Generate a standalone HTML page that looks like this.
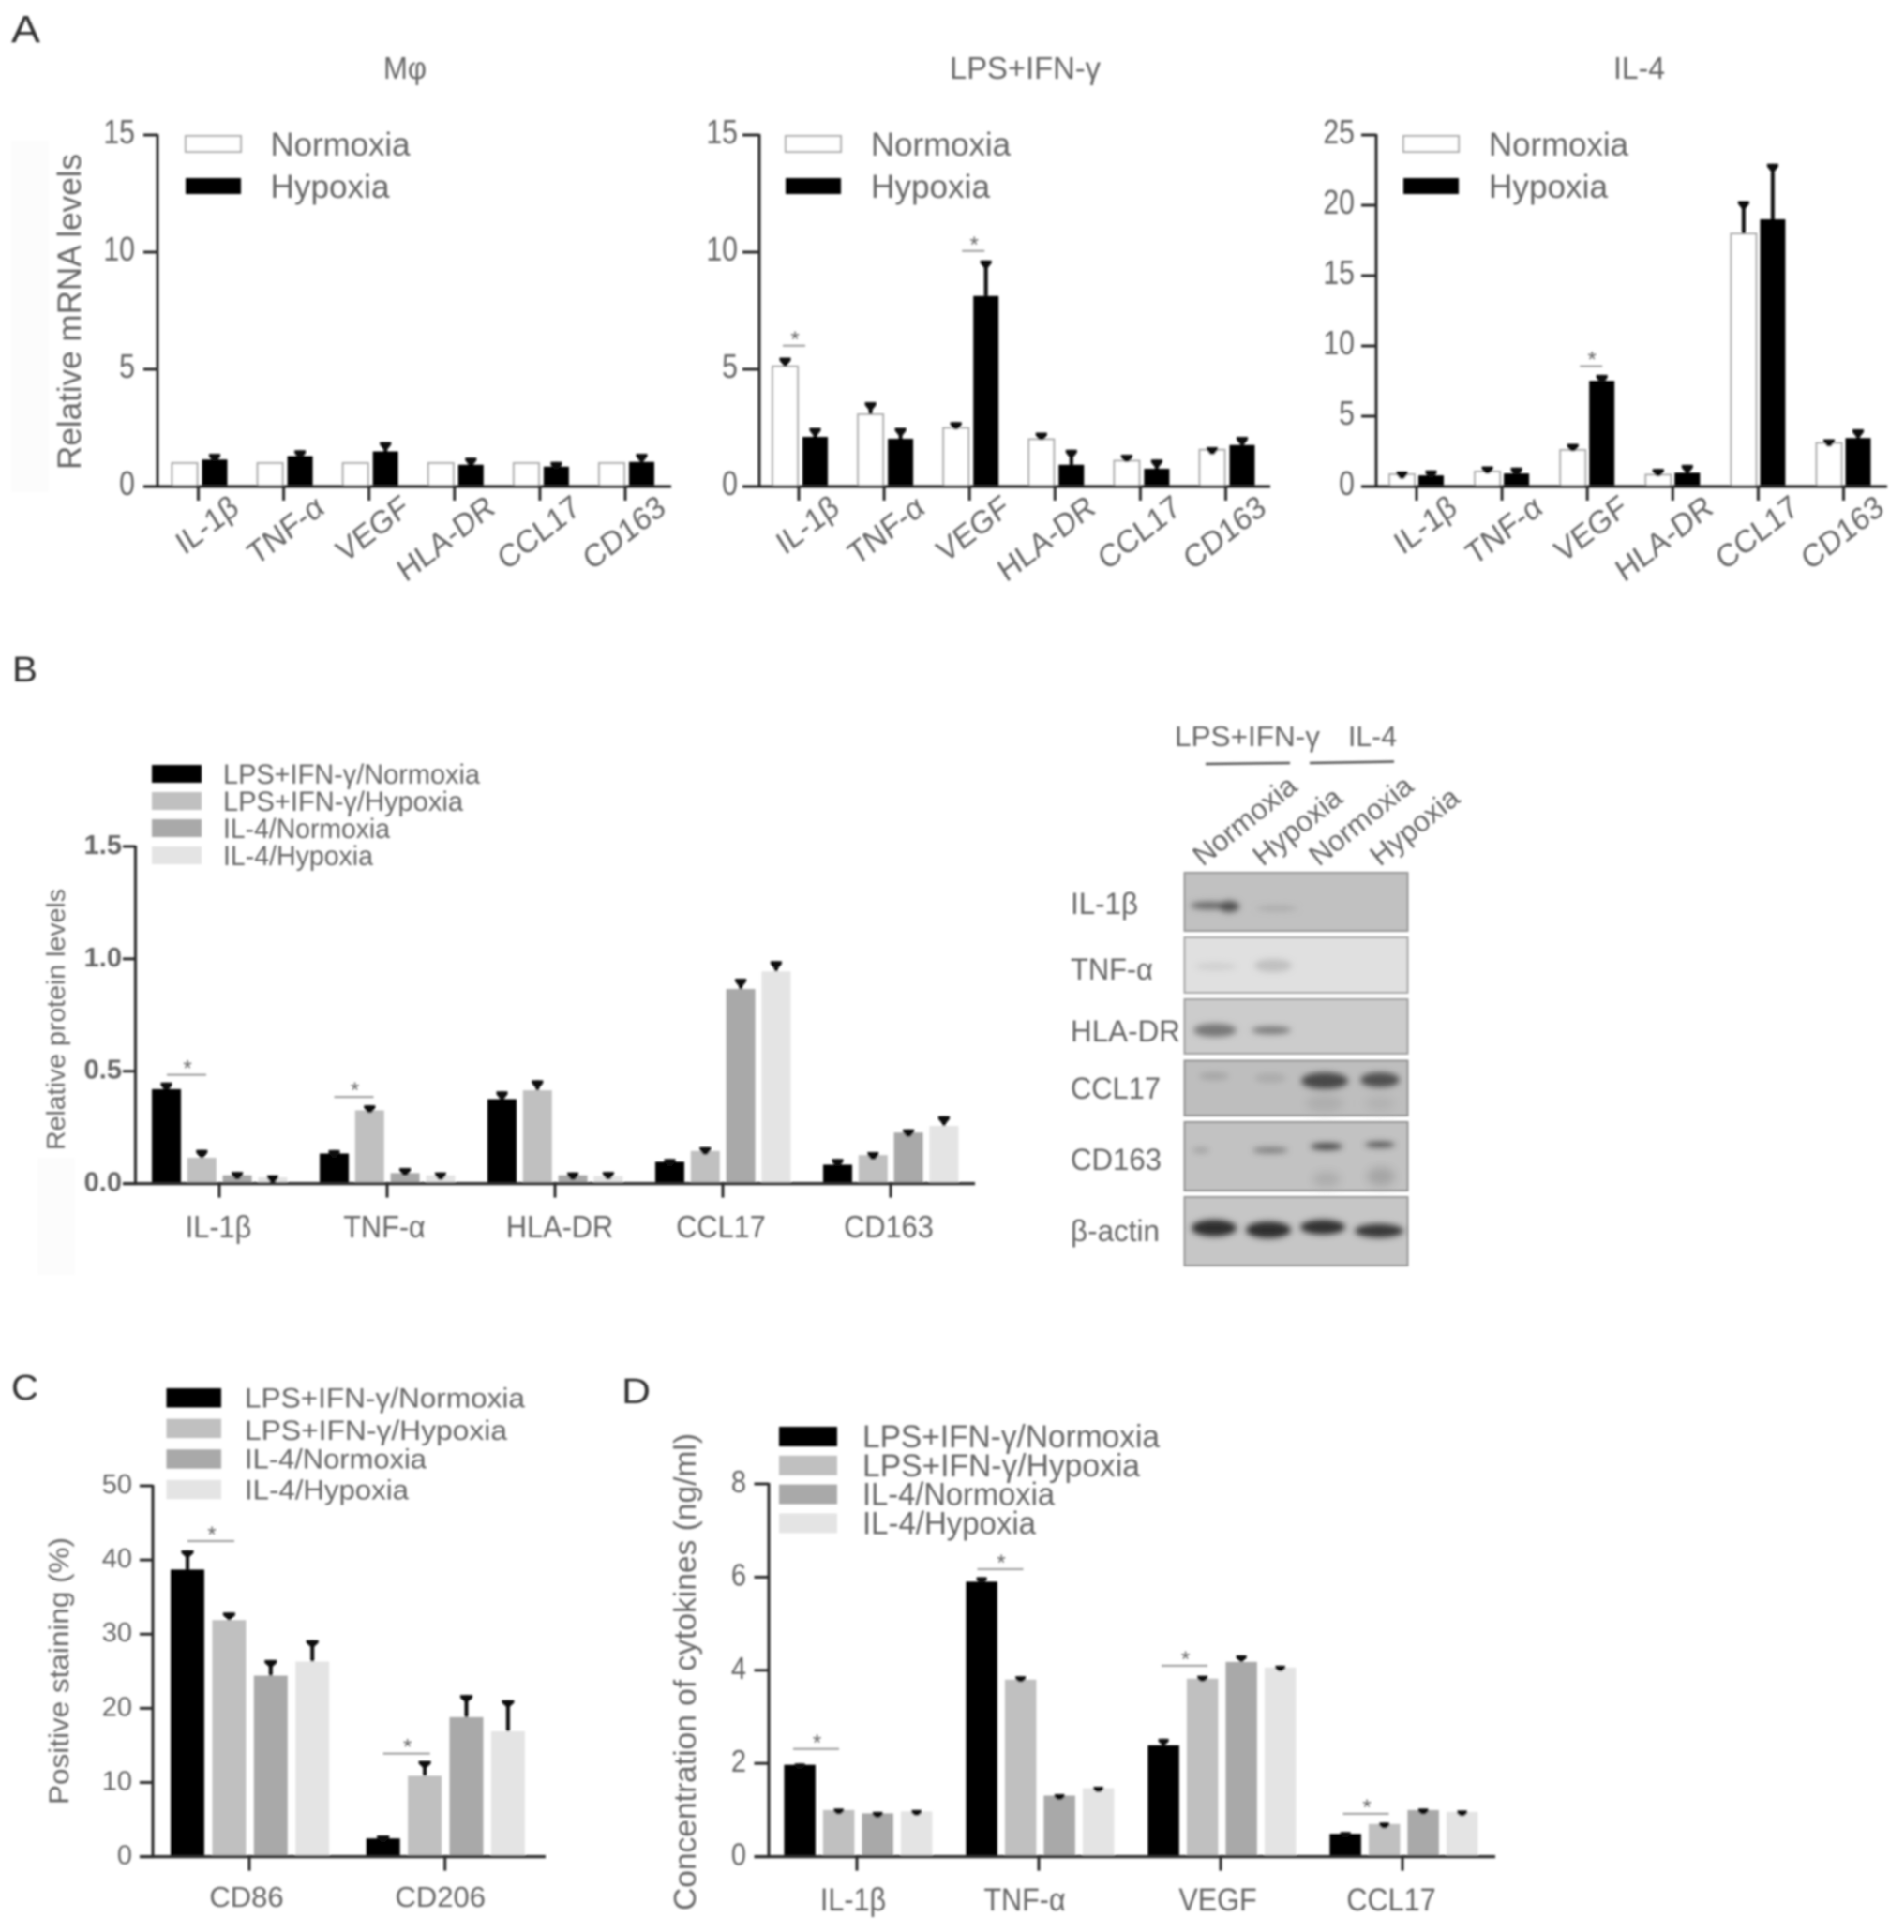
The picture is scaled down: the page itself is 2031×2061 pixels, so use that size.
<!DOCTYPE html>
<html lang="en">
<head>
<meta charset="utf-8">
<title>Macrophage hypoxia figure</title>
<style>
html,body{margin:0;padding:0;background:#fff;}
svg{display:block;}
text{font-family:"Liberation Sans","Noto Sans CJK SC",sans-serif;fill:#666;}
</style>
</head>
<body>
<svg id="figure" xmlns="http://www.w3.org/2000/svg" width="2031" height="2061" viewBox="0 0 2031 2061">
  <defs>
    <filter id="soft" x="-2%" y="-2%" width="104%" height="104%"><feGaussianBlur stdDeviation="1"/></filter>
    <filter id="band" x="-30%" y="-100%" width="160%" height="300%"><feGaussianBlur stdDeviation="3.2"/></filter>
    <filter id="bandWide" x="-30%" y="-100%" width="160%" height="300%"><feGaussianBlur stdDeviation="5"/></filter>
  </defs>
  <rect width="2031" height="2061" fill="#fff"/>
  <g id="root" filter="url(#soft)">
    <rect x="12" y="150" width="40" height="375" fill="#fcfcfc"/>
    <rect x="40" y="1235" width="40" height="125" fill="#fcfcfc"/>
    <text x="12" y="45" font-size="41" textLength="31" lengthAdjust="spacingAndGlyphs" style="fill:#333">A</text>
    <text x="13" y="727" font-size="38" textLength="27" lengthAdjust="spacingAndGlyphs" style="fill:#333">B</text>
    <text x="12" y="1493" font-size="38" textLength="29" lengthAdjust="spacingAndGlyphs" style="fill:#333">C</text>
    <text x="663" y="1497" font-size="38" textLength="31" lengthAdjust="spacingAndGlyphs" style="fill:#333">D</text>

    <text x="409" y="84" font-size="33" textLength="46" lengthAdjust="spacingAndGlyphs">Mφ</text>
    <text x="1013" y="84" font-size="33" textLength="161" lengthAdjust="spacingAndGlyphs">LPS+IFN-γ</text>
    <text x="1721" y="84" font-size="33" textLength="55" lengthAdjust="spacingAndGlyphs">IL-4</text>

    <g id="charts"></g>

    <g id="blot">
      <text x="1253" y="796" font-size="31" textLength="155" lengthAdjust="spacingAndGlyphs">LPS+IFN-γ</text>
      <text x="1438" y="796" font-size="31" textLength="52" lengthAdjust="spacingAndGlyphs">IL-4</text>
      <line x1="1286" y1="815" x2="1376" y2="814" stroke="#555" stroke-width="2.5"/>
      <line x1="1397" y1="814" x2="1487" y2="812.5" stroke="#555" stroke-width="2.5"/>
      <text transform="translate(1283,925) rotate(-39)" font-size="31" textLength="132" lengthAdjust="spacingAndGlyphs">Normoxia</text>
      <text transform="translate(1347,925) rotate(-39)" font-size="31" textLength="112" lengthAdjust="spacingAndGlyphs">Hypoxia</text>
      <text transform="translate(1407,925) rotate(-39)" font-size="31" textLength="132" lengthAdjust="spacingAndGlyphs">Normoxia</text>
      <text transform="translate(1472,925) rotate(-39)" font-size="31" textLength="112" lengthAdjust="spacingAndGlyphs">Hypoxia</text>

      <text x="1142" y="975" font-size="32" textLength="72" lengthAdjust="spacingAndGlyphs">IL-1β</text>
      <text x="1142" y="1045" font-size="32" textLength="88" lengthAdjust="spacingAndGlyphs">TNF-α</text>
      <text x="1142" y="1111" font-size="32" textLength="117" lengthAdjust="spacingAndGlyphs">HLA-DR</text>
      <text x="1142" y="1172" font-size="32" textLength="96" lengthAdjust="spacingAndGlyphs">CCL17</text>
      <text x="1142" y="1248" font-size="32" textLength="97" lengthAdjust="spacingAndGlyphs">CD163</text>
      <text x="1142" y="1324" font-size="32" textLength="95" lengthAdjust="spacingAndGlyphs">β-actin</text>

      <rect x="1263.5" y="931" width="238" height="62" fill="#c1c1c1" stroke="#959595" stroke-width="2"/>
      <rect x="1263.5" y="1000" width="238" height="59" fill="#e0e0e0" stroke="#a4a4a4" stroke-width="2"/>
      <rect x="1263.5" y="1066" width="238" height="58" fill="#cccccc" stroke="#9c9c9c" stroke-width="2"/>
      <rect x="1263.5" y="1131.5" width="238" height="58.5" fill="#bebebe" stroke="#909090" stroke-width="2"/>
      <rect x="1263.5" y="1197" width="238" height="73" fill="#c2c2c2" stroke="#909090" stroke-width="2"/>
      <rect x="1263.5" y="1277" width="238" height="73" fill="#c6c6c6" stroke="#959595" stroke-width="2"/>

      <g filter="url(#band)">
        <ellipse cx="1290" cy="966" rx="20" ry="4" fill="#666"/>
        <ellipse cx="1311" cy="967" rx="11" ry="6" fill="#505050"/>
        <ellipse cx="1362" cy="969" rx="22" ry="3" fill="#aaa"/>
        <ellipse cx="1297" cy="1031" rx="22" ry="4" fill="#cfcfcf"/>
        <ellipse cx="1358" cy="1030" rx="20" ry="7" fill="#c0c0c0"/>
        <ellipse cx="1296" cy="1099" rx="23" ry="7" fill="#777"/>
        <ellipse cx="1356" cy="1099" rx="21" ry="4" fill="#777"/>
        <ellipse cx="1295" cy="1148" rx="16" ry="4" fill="#a4a4a4"/>
        <ellipse cx="1355" cy="1150" rx="17" ry="5" fill="#ababab"/>
        <ellipse cx="1413" cy="1153" rx="25" ry="9" fill="#484848"/>
        <ellipse cx="1472" cy="1152" rx="21" ry="8" fill="#505050"/>
        <ellipse cx="1281" cy="1227" rx="9" ry="2.5" fill="#9a9a9a"/>
        <ellipse cx="1355" cy="1227" rx="19" ry="3" fill="#777"/>
        <ellipse cx="1415" cy="1223" rx="17" ry="3.5" fill="#3c3c3c"/>
        <ellipse cx="1472" cy="1221" rx="16" ry="3" fill="#484848"/>
        <ellipse cx="1295" cy="1310" rx="24" ry="9" fill="#2e2e2e"/>
        <ellipse cx="1353" cy="1312" rx="24" ry="9" fill="#2e2e2e"/>
        <ellipse cx="1411" cy="1309" rx="24" ry="8" fill="#333"/>
        <ellipse cx="1471" cy="1313" rx="26" ry="7.5" fill="#383838"/>
      </g>
      <g filter="url(#bandWide)">
        <ellipse cx="1413" cy="1177" rx="20" ry="9" fill="#adadad"/>
        <ellipse cx="1472" cy="1177" rx="16" ry="8" fill="#b2b2b2"/>
        <ellipse cx="1415" cy="1258" rx="15" ry="8" fill="#acacac"/>
        <ellipse cx="1473" cy="1255" rx="15" ry="10" fill="#a4a4a4"/>
      </g>
    </g>
  </g>
</svg>
<script>
// Panel A data
const geneCategories = ['IL-1β', 'TNF-α', 'VEGF', 'HLA-DR', 'CCL17', 'CD163'];
const oxygenSeriesNames = ['Normoxia', 'Hypoxia'];
const mrnaTicksLow = [0, 5, 10, 15];
const mrnaTicksHigh = [0, 5, 10, 15, 20, 25];

const macNormoxia = [1.0, 1.0, 1.0, 1.0, 1.0, 1.0];
const macNormoxiaErr = [1.0, 1.0, 1.0, 1.0, 1.0, 1.0];
const macHypoxia = [1.15, 1.3, 1.5, 0.93, 0.85, 1.05];
const macHypoxiaErr = [1.4, 1.55, 1.9, 1.23, 1.05, 1.4];

const lpsNormoxia = [5.13, 3.08, 2.5, 2.02, 1.1, 1.57];
const lpsNormoxiaErr = [5.5, 3.6, 2.75, 2.3, 1.36, 1.68];
const lpsHypoxia = [2.12, 2.04, 8.13, 0.93, 0.76, 1.77];
const lpsHypoxiaErr = [2.5, 2.5, 9.65, 1.57, 1.15, 2.12];
const lpsSigCategories = [0, 2];
const lpsSigLevels = [6.01, 10.05];

const il4Normoxia = [0.87, 1.07, 2.6, 0.84, 17.98, 3.1];
const il4NormoxiaErr = [1.07, 1.43, 3.03, 1.26, 20.3, 3.37];
const il4Hypoxia = [0.79, 0.93, 7.52, 0.98, 19.0, 3.45];
const il4HypoxiaErr = [1.15, 1.35, 7.94, 1.54, 22.95, 4.07];
const il4SigCategories = [2];
const il4SigLevels = [8.56];

// Four-group legend names
const treatmentNames = ['LPS+IFN-γ/Normoxia', 'LPS+IFN-γ/Hypoxia', 'IL-4/Normoxia', 'IL-4/Hypoxia'];

// Panel B data
const proteinCategories = ['IL-1β', 'TNF-α', 'HLA-DR', 'CCL17', 'CD163'];
const proteinTicks = [0, 0.5, 1, 1.5];
const proteinLpsNorm = [0.42, 0.134, 0.376, 0.097, 0.084];
const proteinLpsNormErr = [0.45, 0.149, 0.41, 0.11, 0.11];
const proteinLpsHyp = [0.115, 0.326, 0.415, 0.145, 0.127];
const proteinLpsHypErr = [0.15, 0.348, 0.46, 0.162, 0.14];
const proteinIl4Norm = [0.037, 0.047, 0.037, 0.866, 0.227];
const proteinIl4NormErr = [0.052, 0.069, 0.05, 0.912, 0.242];
const proteinIl4Hyp = [0.028, 0.037, 0.034, 0.944, 0.257];
const proteinIl4HypErr = [0.037, 0.05, 0.052, 0.99, 0.3];
const proteinSigCategories = [0, 1];
const proteinSigLevels = [0.484, 0.386];

// Panel C data
const stainCategories = ['CD86', 'CD206'];
const stainTicks = [0, 10, 20, 30, 40, 50];
const stainLpsNorm = [38.7, 2.45];
const stainLpsNormErr = [41.3, 2.85];
const stainLpsHyp = [31.9, 10.9];
const stainLpsHypErr = [32.9, 12.9];
const stainIl4Norm = [24.4, 18.8];
const stainIl4NormErr = [26.5, 21.8];
const stainIl4Hyp = [26.3, 16.9];
const stainIl4HypErr = [29.2, 21.1];
const stainSigCategories = [0, 1];
const stainSigLevels = [42.55, 13.9];

// Panel D data
const cytokineCategories = ['IL-1β', 'TNF-α', 'VEGF', 'CCL17'];
const cytokineTicks = [0, 2, 4, 6, 8];
const cytoLpsNorm = [1.97, 5.9, 2.39, 0.49];
const cytoLpsNormErr = [2.0, 6.0, 2.53, 0.53];
const cytoLpsHyp = [1.0, 3.8, 3.82, 0.7];
const cytoLpsHypErr = [1.03, 3.87, 3.88, 0.73];
const cytoIl4Norm = [0.93, 1.31, 4.18, 1.0];
const cytoIl4NormErr = [0.96, 1.34, 4.32, 1.03];
const cytoIl4Hyp = [0.97, 1.47, 4.06, 0.96];
const cytoIl4HypErr = [1.0, 1.5, 4.1, 0.99];
const cytoSigCategories = [0, 1, 2, 3];
const cytoSigLevels = [2.31, 6.17, 4.1, 0.92];

const SVGNS = 'http://www.w3.org/2000/svg';
function makeEl(tag, attrs, parent, content) {
  const el = document.createElementNS(SVGNS, tag);
  Object.keys(attrs).forEach(function (k) { el.setAttribute(k, attrs[k]); });
  if (content !== undefined) el.textContent = content;
  parent.appendChild(el);
  return el;
}

function drawChart(cfg) {
  const holder = document.getElementById('charts');
  const g = makeEl('g', {}, holder);
  
  

  const yMax = cfg.ticks[cfg.ticks.length - 1];
  const yScale = function (v) { return cfg.zero - (v / yMax) * (cfg.zero - cfg.top); };
  const xScale = function (i) { return cfg.tick0 + i * cfg.tickStep; };
  const yLabelSx = cfg.yLabelSx || 1;
  const catSx = cfg.catSx || 1;

  // bars and error bars
  cfg.series.forEach(function (s, si) {
    const seriesGroup = makeEl('g', {}, g);
    
    
    s.values.forEach(function (v, i) {
      const left = xScale(i) + cfg.barStart + si * cfg.barStep;
      const barTop = yScale(v);
      const bar = makeEl('rect', {
        x: left, y: barTop, width: cfg.barWidth, height: cfg.zero - barTop,
        fill: s.fill, stroke: s.stroke || 'none', 'stroke-width': s.stroke ? 2 : 0
      }, seriesGroup);
      
      

      const center = left + cfg.barWidth / 2;
      const errTop = yScale(s.errors[i]);
      if (s.errors[i] > v) {
        const stem = makeEl('rect', {
          x: center - 2, y: errTop, width: 4, height: barTop - errTop, fill: '#0a0a0a'
        }, seriesGroup);
        
        
        const cap = makeEl('path', {
          d: 'M' + (center - cfg.capWidth / 2) + ' ' + errTop +
             'h' + cfg.capWidth + 'v3l-' + (cfg.capWidth / 2 - 2) + ' ' + cfg.capDrop +
             'h-4l-' + (cfg.capWidth / 2 - 2) + ' -' + cfg.capDrop + 'z',
          fill: '#0a0a0a'
        }, seriesGroup);
        
        
      }
    });
  });

  // axes
  const yAxis = makeEl('line', {
    x1: cfg.axisX, y1: cfg.top - 1, x2: cfg.axisX, y2: cfg.zero + 1.5, stroke: '#2b2b2b', 'stroke-width': 3
  }, g);
  
  
  const xAxis = makeEl('line', {
    x1: cfg.tickLeft, y1: cfg.zero, x2: cfg.xEnd, y2: cfg.zero, stroke: '#2b2b2b', 'stroke-width': 3.2
  }, g);
  
  

  cfg.ticks.forEach(function (t) {
    const y = yScale(t);
    const mark = makeEl('line', {
      x1: cfg.tickLeft, y1: y, x2: cfg.axisX, y2: y, stroke: '#2b2b2b', 'stroke-width': 3
    }, g);
    
    
    const label = makeEl('text', {
      transform: 'translate(' + cfg.yLabelX + ',' + (y + (cfg.yLabelDy || 8)) + ') scale(' + yLabelSx + ',1)',
      'text-anchor': 'end', 'font-size': cfg.yFont,
      style: cfg.yBold ? 'font-weight:bold' : ''
    }, g, cfg.yFormat ? t.toFixed(cfg.yFormat) : String(t));
    
    
  });

  cfg.categories.forEach(function (c, i) {
    const x = xScale(i);
    const mark = makeEl('line', {
      x1: x, y1: cfg.zero, x2: x, y2: cfg.zero + 15, stroke: '#2b2b2b', 'stroke-width': 3
    }, g);
    
    
    let label;
    if (cfg.rotateLabels) {
      label = makeEl('text', {
        transform: 'translate(' + (x + 45) + ',' + (cfg.zero + 27) + ') rotate(-38) skewX(-6)',
        'text-anchor': 'end', 'font-size': cfg.catFont
      }, g, c);
    } else {
      label = makeEl('text', {
        transform: 'translate(' + (x + (cfg.catShift ? cfg.catShift[i] : 0)) + ',' + cfg.catY + ') scale(' + catSx + ',1)',
        'text-anchor': 'middle', 'font-size': cfg.catFont
      }, g, c);
    }
    
    
  });

  // significance marks
  (cfg.sigCategories || []).forEach(function (cat, k) {
    const cx = xScale(cat) + cfg.sigDx[k];
    const ly = yScale(cfg.sigLevels[k]);
    const rule = makeEl('line', {
      x1: cx - cfg.sigHalf, y1: ly, x2: cx + cfg.sigHalf, y2: ly, stroke: '#999', 'stroke-width': 2
    }, g);
    
    
    const star = makeEl('text', {
      x: cx + 1, y: ly + 1, 'text-anchor': 'middle', 'font-size': 24
    }, g, '*');
    
    
  });

  // y title
  if (cfg.title) {
    const title = makeEl('text', {
      transform: 'translate(' + cfg.titleX + ',' + cfg.titleBottom + ') rotate(-90)',
      'font-size': cfg.titleFont, textLength: cfg.titleLength, lengthAdjust: 'spacingAndGlyphs'
    }, g, cfg.title);
    
    
  }

  // legend
  cfg.series.forEach(function (s, si) {
    const swatch = makeEl('rect', {
      x: cfg.legendX, y: cfg.legendY + si * cfg.legendStep, width: cfg.legendW, height: cfg.legendH,
      fill: s.fill, stroke: s.stroke || 'none', 'stroke-width': s.stroke ? 2 : 0
    }, g);
    
    
    const entry = makeEl('text', {
      x: cfg.legendTextX, y: cfg.legendY + si * cfg.legendStep + cfg.legendH + cfg.legendBaseline + (si === 1 ? (cfg.legendSecondDy || 0) : 0),
      'font-size': cfg.legendFont, textLength: cfg.legendLengths[si], lengthAdjust: 'spacingAndGlyphs'
    }, g, s.name);
    
    
  });
}

const whiteFill = '#ffffff';
const whiteStroke = '#ababab';
const greys = ['#000000', '#c0c0c0', '#a9a9a9', '#e4e4e4'];

function twoSeries(n, nErr, h, hErr) {
  return [
    { name: oxygenSeriesNames[0], values: n, errors: nErr, fill: whiteFill, stroke: whiteStroke },
    { name: oxygenSeriesNames[1], values: h, errors: hErr, fill: '#000000' }
  ];
}
function fourSeries(a, aErr, b, bErr, c, cErr, d, dErr) {
  return [
    { name: treatmentNames[0], values: a, errors: aErr, fill: greys[0] },
    { name: treatmentNames[1], values: b, errors: bErr, fill: greys[1] },
    { name: treatmentNames[2], values: c, errors: cErr, fill: greys[2] },
    { name: treatmentNames[3], values: d, errors: dErr, fill: greys[3] }
  ];
}

const mrnaLayout = {
  top: 144, zero: 519, tickStep: 91.1, barStart: -28, barStep: 32, barWidth: 27,
  capWidth: 12, capDrop: 5, yFont: 36, yLabelSx: 0.84, yLabelDy: 9, catFont: 33, rotateLabels: true,
  legendY: 145, legendStep: 45, legendW: 59, legendH: 17, legendBaseline: 4,
  legendFont: 35, legendLengths: [149, 127], sigHalf: 12
};

drawChart(Object.assign({}, mrnaLayout, {
  axisX: 168, tickLeft: 153, xEnd: 716, tick0: 211.5, yLabelX: 144,
  ticks: mrnaTicksLow, categories: geneCategories,
  series: twoSeries(macNormoxia, macNormoxiaErr, macHypoxia, macHypoxiaErr),
  title: 'Relative mRNA levels', titleX: 86, titleBottom: 501, titleFont: 35, titleLength: 337,
  legendX: 198, legendTextX: 288.5
}));

drawChart(Object.assign({}, mrnaLayout, {
  axisX: 810, tickLeft: 792, xEnd: 1355, tick0: 852, yLabelX: 787,
  ticks: mrnaTicksLow, categories: geneCategories,
  series: twoSeries(lpsNormoxia, lpsNormoxiaErr, lpsHypoxia, lpsHypoxiaErr),
  sigCategories: lpsSigCategories, sigLevels: lpsSigLevels, sigDx: [-5, 4],
  legendX: 838, legendTextX: 929
}));

drawChart(Object.assign({}, mrnaLayout, {
  axisX: 1468, tickLeft: 1452, xEnd: 2013, tick0: 1511, barStart: -29, barStep: 31, yLabelX: 1445,
  ticks: mrnaTicksHigh, categories: geneCategories,
  series: twoSeries(il4Normoxia, il4NormoxiaErr, il4Hypoxia, il4HypoxiaErr),
  sigCategories: il4SigCategories, sigLevels: il4SigLevels, sigDx: [4],
  legendX: 1497, legendTextX: 1588
}));

drawChart({
  axisX: 144.5, top: 903, zero: 1262.6, tickLeft: 131, xEnd: 1040, tick0: 234, tickStep: 179,
  barStart: -72, barStep: 37.8, barWidth: 31, capWidth: 12, capDrop: 5,
  yLabelX: 130, yFont: 29, yBold: true, yFormat: 1, catFont: 33, catSx: 0.93, catY: 1320,
  catShift: [-1, -3, 5, -2, -2],
  ticks: proteinTicks, categories: proteinCategories,
  series: fourSeries(proteinLpsNorm, proteinLpsNormErr, proteinLpsHyp, proteinLpsHypErr,
    proteinIl4Norm, proteinIl4NormErr, proteinIl4Hyp, proteinIl4HypErr),
  sigCategories: proteinSigCategories, sigLevels: proteinSigLevels, sigDx: [-35, -35.5], sigHalf: 21,
  title: 'Relative protein levels', titleX: 69, titleBottom: 1227, titleFont: 28, titleLength: 279,
  legendX: 162, legendY: 816, legendStep: 29, legendW: 53, legendH: 19, legendBaseline: 1,
  legendTextX: 238, legendFont: 30, legendLengths: [274, 256, 178, 160]
});

drawChart({
  axisX: 163, top: 1585, zero: 1980.6, tickLeft: 149, xEnd: 582, tick0: 266, tickStep: 208.7,
  barStart: -84, barStep: 44.4, barWidth: 36, capWidth: 13, capDrop: 4,
  yLabelX: 141, yFont: 29, catFont: 31, catY: 2034, catShift: [-3, -5],
  ticks: stainTicks, categories: stainCategories,
  series: fourSeries(stainLpsNorm, stainLpsNormErr, stainLpsHyp, stainLpsHypErr,
    stainIl4Norm, stainIl4NormErr, stainIl4Hyp, stainIl4HypErr),
  sigCategories: stainSigCategories, sigLevels: stainSigLevels, sigDx: [-41, -41], sigHalf: 25,
  title: 'Positive staining (%)', titleX: 73, titleBottom: 1925, titleFont: 30, titleLength: 285,
  legendX: 177.5, legendY: 1481, legendStep: 32.6, legendW: 58.5, legendH: 20.5, legendBaseline: 0,
  legendSecondDy: 2, legendTextX: 261, legendFont: 30, legendLengths: [299, 280, 194, 175]
});

drawChart({
  axisX: 820, top: 1583, zero: 1980.6, tickLeft: 804.5, xEnd: 1595, tick0: 914, tickStep: 194,
  barStart: -77.6, barStep: 41.5, barWidth: 33.5, capWidth: 11, capDrop: 3,
  yLabelX: 796, yFont: 33, yLabelSx: 0.88, yLabelDy: 9, catFont: 34, catSx: 0.9, catY: 2038, catShift: [-4, -15, -3, -12],
  ticks: cytokineTicks, categories: cytokineCategories,
  series: fourSeries(cytoLpsNorm, cytoLpsNormErr, cytoLpsHyp, cytoLpsHypErr,
    cytoIl4Norm, cytoIl4NormErr, cytoIl4Hyp, cytoIl4HypErr),
  sigCategories: cytoSigCategories, sigLevels: cytoSigLevels, sigDx: [-43.5, -41, -38.5, -39], sigHalf: 24.5,
  title: 'Concentration of cytokines (ng/ml)', titleX: 742, titleBottom: 2038, titleFont: 33, titleLength: 509,
  legendX: 831, legendY: 1522, legendStep: 30.8, legendW: 62, legendH: 21, legendBaseline: 1,
  legendTextX: 920, legendFont: 34, legendLengths: [317, 296, 205, 185]
});
</script>
</body>
</html>
